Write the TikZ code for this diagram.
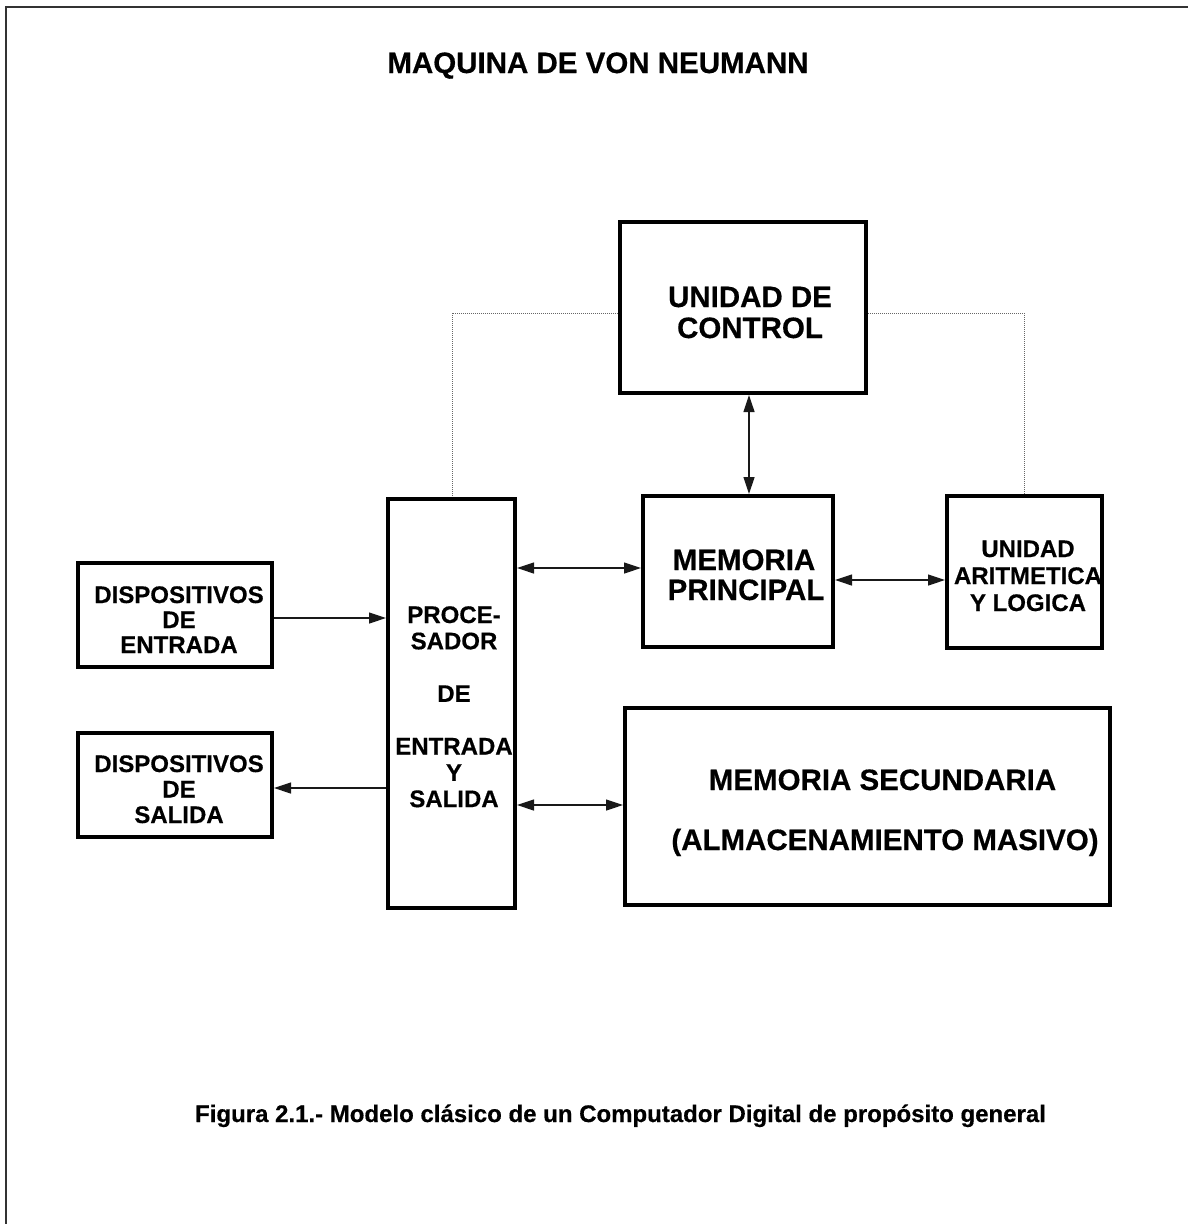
\documentclass[tikz,border=0pt]{standalone}
\usepackage{fontspec}
\setmainfont{Liberation Sans}[BoldFeatures={FakeBold=0.5}]
\usetikzlibrary{arrows.meta,calc}
\begin{document}
\begin{tikzpicture}[x=1pt,y=-1pt,
  blk/.style={draw=black, line width=4pt, inner sep=0pt},
  big/.style={inner sep=0pt, anchor=base, font=\bfseries\fontsize{29.5}{30}\selectfont},
  small/.style={inner sep=0pt, anchor=base, font=\bfseries\fontsize{24}{26}\selectfont},
  link/.style={line width=1.2pt, draw=black!90, {Triangle[length=17pt,width=11pt]}-{Triangle[length=17pt,width=11pt]}},
  tolink/.style={line width=1.2pt, draw=black!90, -{Triangle[length=17pt,width=11pt]}},
  ctrl/.style={line width=1pt, draw=black!60, dash pattern=on 1pt off 1pt}]
\useasboundingbox (0,0) rectangle (1188,1224);

% page frame (left and top rules)
\draw[line width=1.8pt, black!80] (6,1224) -- (6,7) -- (1188,7);

% title
\node[big] (title) at (598,73) {MAQUINA DE VON NEUMANN};

% blocks
\node[blk, minimum width=246pt, minimum height=171pt] (uc)  at (743,307.5) {};
\node[blk, minimum width=127pt, minimum height=409pt] (pes) at (451.5,703.5) {};
\node[blk, minimum width=190pt, minimum height=151pt] (mp)  at (738,571.5) {};
\node[blk, minimum width=155pt, minimum height=152pt] (alu) at (1024.5,572) {};
\node[blk, minimum width=194pt, minimum height=104pt] (ent) at (175,615) {};
\node[blk, minimum width=194pt, minimum height=104pt] (sal) at (175,785) {};
\node[blk, minimum width=485pt, minimum height=197pt] (ms)  at (867.5,806.5) {};

% block labels
\node[big] (uc1) at (750,307) {UNIDAD DE};
\node[big] (uc2) at (750,338) {CONTROL};

\node[big] (mp1) at (744,570) {MEMORIA};
\node[big] (mp2) at (746,600) {PRINCIPAL};

\node[small] (alu1) at (1028,557) {UNIDAD};
\node[small] (alu2) at (1028,584) {ARITMETICA};
\node[small] (alu3) at (1028,611) {Y LOGICA};

\node[small] (pes1) at (454,623) {PROCE-};
\node[small] (pes2) at (454,649.3) {SADOR};
\node[small] (pes3) at (454,701.9) {DE};
\node[small] (pes4) at (454,754.5) {ENTRADA};
\node[small] (pes5) at (454,780.8) {Y};
\node[small] (pes6) at (454,807.1) {SALIDA};

\node[small] (ent1) at (179,603) {DISPOSITIVOS};
\node[small] (ent2) at (179,628) {DE};
\node[small] (ent3) at (179,653) {ENTRADA};

\node[small] (sal1) at (179,772) {DISPOSITIVOS};
\node[small] (sal2) at (179,797.5) {DE};
\node[small] (sal3) at (179,823) {SALIDA};

\node[big] (ms1) at (882.5,790) {MEMORIA SECUNDARIA};
\node[big] (ms2) at (885,850) {(ALMACENAMIENTO MASIVO)};

% caption
\node[small] (cap) at (620.5,1122) {Figura 2.1.- Modelo clásico de un Computador Digital de propósito general};

% reference coordinates for the connector lines
\coordinate (vx)  at (749,0);
\coordinate (y1)  at (0,568);
\coordinate (y2)  at (0,580);
\coordinate (y3)  at (0,618);
\coordinate (y4)  at (0,788);
\coordinate (y5)  at (0,805);
\coordinate (yc)  at (0,313);
\coordinate (xl)  at (452,0);
\coordinate (xr)  at (1024,0);

% data paths
\draw[link] (uc.south -| vx) -- (mp.north -| vx);
\draw[link] (pes.east |- y1) -- (mp.west |- y1);
\draw[link] (mp.east |- y2) -- (alu.west |- y2);
\draw[tolink] (ent.east |- y3) -- (pes.west |- y3);
\draw[tolink] (pes.west |- y4) -- (sal.east |- y4);
\draw[link] (pes.east |- y5) -- (ms.west |- y5);

% control lines
\draw[ctrl] (uc.west |- yc) -- (xl |- yc) -- (xl |- pes.north);
\draw[ctrl] (uc.east |- yc) -- (xr |- yc) -- (xr |- alu.north);
\end{tikzpicture}
\end{document}
